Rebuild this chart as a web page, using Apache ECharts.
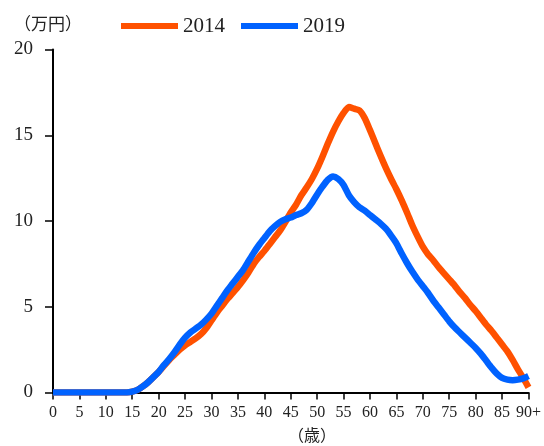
<!DOCTYPE html>
<html><head><meta charset="utf-8">
<script src="https://cdn.jsdelivr.net/npm/echarts@6/dist/echarts.min.js"></script>
<style>html,body{margin:0;padding:0;background:#fff}#c{width:544px;height:446px}</style>
</head><body><div id="c"></div>
<script>
var ages = [];
for (var a = 0; a <= 90; a++) ages.push(a);
var xTickLabels = ['0','5','10','15','20','25','30','35','40','45','50','55','60','65','70','75','80','85','90+'];
var yTicks = [0,5,10,15,20];
var seriesNames = ['2014','2019'];
var v2014 = [0,0,0,0,0,0,0,0,0,0,0,0,0,0,0,
  0.05,0.15,0.35,0.6,0.9,1.2,1.55,1.9,2.2,2.5,2.75,2.95,3.15,3.4,3.75,
  4.2,4.65,5.05,5.45,5.8,6.15,6.55,7.0,7.5,7.9,8.25,8.65,9.05,9.45,9.95,
  10.5,10.95,11.5,11.95,12.45,13.05,13.75,14.5,15.2,15.8,16.3,16.65,16.55,16.45,16.0,
  15.3,14.55,13.8,13.1,12.45,11.85,11.2,10.5,9.75,9.1,8.5,8.05,7.7,7.3,6.95,
  6.6,6.25,5.85,5.5,5.1,4.75,4.35,3.95,3.6,3.2,2.8,2.4,1.9,1.35,0.85,0.3];
var v2019 = [0,0,0,0,0,0,0,0,0,0,0,0,0,0,0,
  0.05,0.15,0.35,0.6,0.9,1.2,1.6,1.95,2.35,2.8,3.2,3.5,3.72,3.95,4.25,
  4.6,5.05,5.5,5.95,6.35,6.75,7.15,7.65,8.15,8.6,9.0,9.4,9.7,9.95,10.1,
  10.2,10.35,10.45,10.65,11.05,11.55,12.0,12.4,12.6,12.45,12.1,11.5,11.1,10.8,10.6,
  10.35,10.1,9.85,9.55,9.15,8.7,8.1,7.55,7.05,6.6,6.2,5.8,5.35,4.95,4.55,
  4.15,3.8,3.5,3.2,2.9,2.6,2.25,1.85,1.45,1.1,0.85,0.75,0.72,0.75,0.82,0.96];

function pairs(vals){ return ages.map(function(a,i){ return [a, vals[i]]; }); }
var FONT = "'Liberation Serif', 'Noto Sans CJK JP', serif";
var chart = echarts.init(document.getElementById('c'), null, {renderer:'canvas'});
chart.setOption({
  animation:false,
  backgroundColor:'#fff',
  grid:{left:53, right:12, top:49.5, bottom:53.5, containLabel:false},
  legend:{
    left:116, top:9, itemWidth:57, itemHeight:6, itemGap:16, icon:'rect',
    data:seriesNames,
    textStyle:{fontFamily:FONT, fontSize:21, color:'#222', lineHeight:24}
  },
  graphic:[
    {type:'text', left:14, top:15, style:{text:'（万円）', fontFamily:"'Noto Sans CJK JP'", fontSize:17, fill:'#222'}},
    {type:'text', left:288, top:427, style:{text:'（歳）', fontFamily:"'Noto Sans CJK JP'", fontSize:16, fill:'#222'}}
  ],
  xAxis:{
    type:'value', min:0, max:90, interval:5,
    axisLine:{show:true, lineStyle:{color:'#000', width:2}},
    axisTick:{show:true, length:7, lineStyle:{color:'#000', width:1.5}},
    splitLine:{show:false},
    axisLabel:{margin:12, fontFamily:FONT, fontSize:16, color:'#222',
      formatter:function(v){ return xTickLabels[Math.round(v/5)]; }}
  },
  yAxis:{
    type:'value', min:yTicks[0], max:yTicks[yTicks.length-1], interval:5,
    axisLine:{show:true, lineStyle:{color:'#000', width:2}},
    axisTick:{show:true, length:8, lineStyle:{color:'#000', width:1.5}},
    splitLine:{show:false},
    axisLabel:{margin:20, fontFamily:FONT, fontSize:19, color:'#222'}
  },
  series:[
    {name:seriesNames[0], type:'line', data:pairs(v2014), showSymbol:false, smooth:0.2,
     lineStyle:{color:'#FF5100', width:6.5, join:'round'}, itemStyle:{color:'#FF5100'}},
    {name:seriesNames[1], type:'line', data:pairs(v2019), showSymbol:false, smooth:0.2,
     lineStyle:{color:'#0062FF', width:6.5, join:'round'}, itemStyle:{color:'#0062FF'}}
  ]
});
</script></body></html>
